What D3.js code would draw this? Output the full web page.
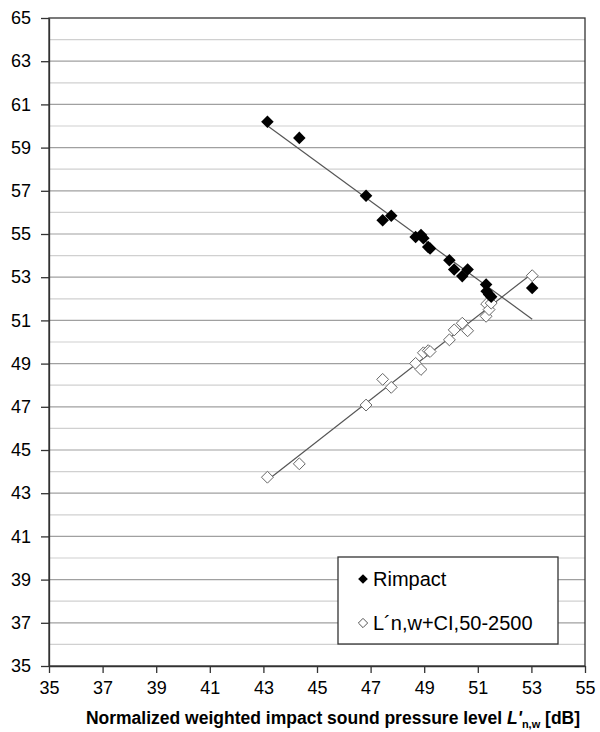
<!DOCTYPE html>
<html>
<head>
<meta charset="utf-8">
<script src="https://cdn.jsdelivr.net/npm/d3@7"></script>
<style>
body { margin: 0; background: #fff; }
svg text { font-family: Arial, "Liberation Sans", sans-serif; fill: #000; }
</style>
</head>
<body>
<div id="chart"></div>
<script>
// measured floors: same x for both series
var xVals = [43.15, 44.34, 46.83, 47.45, 47.77, 48.68, 48.88, 48.97, 49.15, 49.22, 49.94, 50.12, 50.42, 50.62, 51.31, 51.33, 51.42, 51.5, 53.03];
var rimpact = [60.2, 59.45, 56.77, 55.64, 55.84, 54.86, 54.95, 54.8, 54.4, 54.33, 53.78, 53.36, 53.05, 53.36, 52.66, 52.35, 52.2, 52.1, 52.5];
var lnwCI = [43.74, 44.36, 47.08, 48.27, 47.9, 49.01, 48.73, 49.5, 49.6, 49.56, 50.1, 50.56, 50.87, 50.52, 51.19, 51.76, 51.5, 51.8, 53.07];
var seriesNames = ["Rimpact", "L\u00b4n,w+CI,50-2500"];
var xTicks = [35, 37, 39, 41, 43, 45, 47, 49, 51, 53, 55];
var yTicks = [35, 37, 39, 41, 43, 45, 47, 49, 51, 53, 55, 57, 59, 61, 63, 65];

var width = 600, height = 732,
margin = {top: 18, right: 15, bottom: 66, left: 49};

var svg = d3.select("#chart").append("svg")
.attr("width", width)
.attr("height", height);

var x = d3.scaleLinear().domain([35, 55]).range([margin.left, width - margin.right]);
var y = d3.scaleLinear().domain([35, 65]).range([height - margin.bottom, margin.top]);

// grid lines every 1 dB, odd ones darker
svg.append("g").selectAll("line")
.data(d3.range(36, 65))
.enter().append("line")
.attr("x1", x(35)).attr("x2", x(55))
.attr("y1", d => y(d)).attr("y2", d => y(d))
.attr("stroke", d => d % 2 ? "#a0a0a0" : "#d0d0d0")
.attr("stroke-width", 1.2);

// axes
var xAxis = d3.axisBottom(x).tickValues(xTicks).tickSize(7).tickPadding(5).tickSizeOuter(0);
var yAxis = d3.axisLeft(y).tickValues(yTicks).tickSize(8).tickPadding(10).tickSizeOuter(0);

svg.append("g")
.attr("transform", `translate(0,${y(35)})`)
.call(xAxis)
.call(g => g.selectAll("text").style("font-size", "18px").attr("dy", "0.9em"));

svg.append("g")
.attr("transform", `translate(${x(35)},0)`)
.call(yAxis)
.call(g => g.selectAll("text").style("font-size", "18px"));

svg.selectAll(".domain, .tick line").attr("stroke", "#333").attr("stroke-width", 1.3);

// plot frame
svg.append("rect")
.attr("x", x(35)).attr("y", y(65))
.attr("width", x(55) - x(35)).attr("height", y(35) - y(65))
.attr("fill", "none").attr("stroke", "#333").attr("stroke-width", 1.3);

// linear trend lines
function fit(xs, ys) {
  var mx = d3.mean(xs), my = d3.mean(ys);
  var sxy = d3.sum(xs, (v, i) => (v - mx) * (ys[i] - my));
  var sxx = d3.sum(xs, v => (v - mx) * (v - mx));
  var b = sxy / sxx;
  return v => my + b * (v - mx);
}
var ext = d3.extent(xVals);
[rimpact, lnwCI].forEach(function(ys) {
  var f = fit(xVals, ys);
  svg.append("line")
  .attr("x1", x(ext[0])).attr("y1", y(f(ext[0])))
  .attr("x2", x(ext[1])).attr("y2", y(f(ext[1])))
  .attr("stroke", "#555").attr("stroke-width", 1.2);
});

var diamond = d3.symbol().type(d3.symbolDiamond2).size(100);
var diamondOpen = d3.symbol().type(d3.symbolDiamond2).size(90);

svg.append("g").selectAll("path")
.data(xVals.map((v, i) => [v, lnwCI[i]]))
.enter().append("path")
.attr("d", diamondOpen)
.attr("transform", d => `translate(${x(d[0])},${y(d[1])})`)
.attr("fill", "#fff").attr("stroke", "#666").attr("stroke-width", 1);

svg.append("g").selectAll("path")
.data(xVals.map((v, i) => [v, rimpact[i]]))
.enter().append("path")
.attr("d", diamond)
.attr("transform", d => `translate(${x(d[0])},${y(d[1])})`)
.attr("fill", "#000");

// legend
var lg = svg.append("g").attr("transform", "translate(338,557)");
lg.append("rect").attr("width", 220).attr("height", 87)
.attr("fill", "#fff").attr("stroke", "#333").attr("stroke-width", 1.3);
lg.append("path").attr("d", d3.symbol().type(d3.symbolDiamond2).size(60))
.attr("transform", "translate(25,22)").attr("fill", "#000");
lg.append("path").attr("d", d3.symbol().type(d3.symbolDiamond2).size(55))
.attr("transform", "translate(25,66)").attr("fill", "#fff").attr("stroke", "#555");
lg.append("text").attr("x", 35).attr("y", 29).style("font-size", "20px").text(seriesNames[0]);
lg.append("text").attr("x", 35).attr("y", 73).style("font-size", "20px").text(seriesNames[1]);

// x axis title
var title = svg.append("text")
.attr("x", (x(35) + x(55)) / 2 + 16).attr("y", 724)
.attr("text-anchor", "middle")
.style("font-size", "17.5px").style("font-weight", "bold");
title.append("tspan").text("Normalized weighted impact sound pressure level ");
title.append("tspan").style("font-style", "italic").text("L'");
title.append("tspan").style("font-size", "11px").attr("dy", 4).text("n,w");
title.append("tspan").attr("dy", -4).text(" [dB]");
</script>
</body>
</html>
